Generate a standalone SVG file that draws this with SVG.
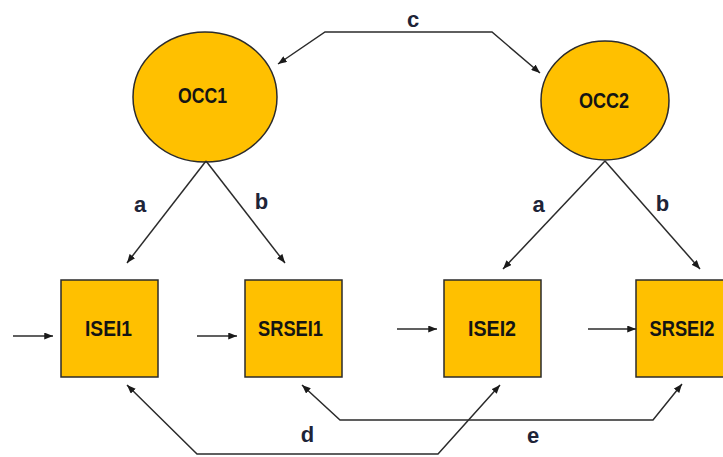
<svg xmlns="http://www.w3.org/2000/svg" width="723" height="457" viewBox="0 0 723 457">
  <style>
    .node { fill: #FFC000; stroke: #2b2b2b; stroke-width: 1.5; }
    .name { font-family: "Liberation Sans", Arial, sans-serif; font-weight: bold; font-size: 22px; fill: #141414; text-anchor: middle; }
    .conn { fill: none; stroke: #2b2b2b; stroke-width: 1.5; }
    .lbl { font-family: "Liberation Sans", Arial, sans-serif; font-weight: bold; font-size: 22px; fill: #1e2438; text-anchor: middle; }
  </style>
  <defs>
    <marker id="arrow" viewBox="0 0 10 8" refX="10" refY="4" markerWidth="9" markerHeight="7" markerUnits="userSpaceOnUse" orient="auto-start-reverse">
      <path d="M0,0 L10,4 L0,8 z" fill="#1a1a1a"/>
    </marker>
  </defs>
  <rect width="723" height="457" fill="#ffffff"/>

  <!-- latent variables -->
  <g id="occ1">
    <ellipse class="node" cx="205" cy="97" rx="72" ry="65"/>
    <text class="name" x="202.5" y="103" textLength="49" lengthAdjust="spacingAndGlyphs">OCC1</text>
  </g>
  <g id="occ2">
    <ellipse class="node" cx="605" cy="100.5" rx="64" ry="59.5"/>
    <text class="name" x="604" y="108" textLength="50" lengthAdjust="spacingAndGlyphs">OCC2</text>
  </g>

  <!-- observed variables -->
  <g id="isei1">
    <rect class="node" x="61" y="280" width="97" height="97"/>
    <text class="name" x="108.5" y="336" textLength="47" lengthAdjust="spacingAndGlyphs">ISEI1</text>
  </g>
  <g id="srsei1">
    <rect class="node" x="245" y="280" width="97" height="97"/>
    <text class="name" x="290.5" y="335.5" textLength="65" lengthAdjust="spacingAndGlyphs">SRSEI1</text>
  </g>
  <g id="isei2">
    <rect class="node" x="444" y="280" width="97" height="97"/>
    <text class="name" x="492" y="336" textLength="48" lengthAdjust="spacingAndGlyphs">ISEI2</text>
  </g>
  <g id="srsei2">
    <rect class="node" x="636" y="280" width="97" height="97"/>
    <text class="name" x="682" y="336" textLength="65" lengthAdjust="spacingAndGlyphs">SRSEI2</text>
  </g>

  <!-- paths and covariances -->
  <g id="connectors">
    <path class="conn" d="M278,64 L325,32 L492,32 L540,73" marker-start="url(#arrow)" marker-end="url(#arrow)"/>
    <path class="conn" d="M206,161 L127,263" marker-end="url(#arrow)"/>
    <path class="conn" d="M206,161 L285,263" marker-end="url(#arrow)"/>
    <path class="conn" d="M605,161 L503,269" marker-end="url(#arrow)"/>
    <path class="conn" d="M605,161 L700,269" marker-end="url(#arrow)"/>
    <path class="conn" d="M13,336 H53" marker-end="url(#arrow)"/>
    <path class="conn" d="M197,336 H237" marker-end="url(#arrow)"/>
    <path class="conn" d="M397,329 H437" marker-end="url(#arrow)"/>
    <path class="conn" d="M588,329 H636" marker-end="url(#arrow)"/>
    <path class="conn" d="M127,385 L197,454 L438,454 L500,385" marker-start="url(#arrow)" marker-end="url(#arrow)"/>
    <path class="conn" d="M302,385 L340,420 L653,420 L682,384" marker-start="url(#arrow)" marker-end="url(#arrow)"/>
  </g>

  <!-- path labels -->
  <g id="labels">
    <text class="lbl" x="413" y="27">c</text>
    <text class="lbl" x="140" y="212">a</text>
    <text class="lbl" x="261.5" y="209">b</text>
    <text class="lbl" x="538.5" y="212">a</text>
    <text class="lbl" x="662.5" y="211">b</text>
    <text class="lbl" x="307.5" y="442">d</text>
    <text class="lbl" x="533" y="443">e</text>
  </g>
</svg>
